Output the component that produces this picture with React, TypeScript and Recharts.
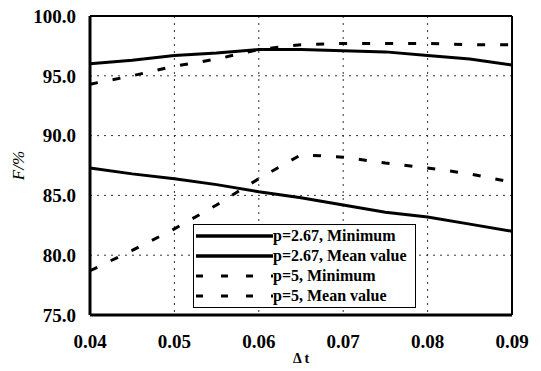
import React from 'react';
import { LineChart, Line, XAxis, YAxis, CartesianGrid, ReferenceLine } from 'recharts';

const xs = [0.04, 0.045, 0.05, 0.055, 0.06, 0.065, 0.07, 0.075, 0.08, 0.085, 0.09];
const p267Min = [87.3, 86.8, 86.4, 85.9, 85.3, 84.8, 84.2, 83.6, 83.2, 82.6, 82.0];
const p267Mean = [96.0, 96.3, 96.7, 96.9, 97.2, 97.2, 97.1, 97.0, 96.7, 96.4, 95.9];
const p5Min = [78.7, 80.4, 82.2, 84.2, 86.4, 88.4, 88.2, 87.7, 87.3, 86.8, 86.1];
const p5Mean = [94.3, 95.0, 95.8, 96.4, 97.2, 97.6, 97.7, 97.7, 97.7, 97.6, 97.6];
const xTicks = [0.04, 0.05, 0.06, 0.07, 0.08, 0.09];
const yTicks = [75, 80, 85, 90, 95, 100];
const seriesNames = ['p=2.67, Minimum', 'p=2.67, Mean value', 'p=5, Minimum', 'p=5, Mean value'];

const data = xs.map((x, i) => ({
  x,
  a: p267Min[i],
  b: p267Mean[i],
  c: p5Min[i],
  d: p5Mean[i],
}));

const FONT = '"Liberation Serif", "Times New Roman", serif';

const LegendBox = () => (
  <div
    style={{
      position: 'absolute',
      left: 193,
      top: 224,
      width: 223,
      height: 84,
      border: '1px solid #000',
      background: '#fff',
      fontFamily: FONT,
      fontWeight: 'bold',
      fontSize: 16,
      color: '#000',
      paddingTop: 1,
      boxSizing: 'border-box',
    }}
  >
    {seriesNames.map((n, i) => (
      <div key={n} style={{ display: 'flex', alignItems: 'center', height: 20, lineHeight: '20px' }}>
        <svg width={77} height={10} style={{ marginLeft: 2 }}>
          <line
            x1={0}
            y1={5}
            x2={77}
            y2={5}
            stroke="#000"
            strokeWidth={i < 2 ? 3.5 : 3}
            strokeDasharray={i < 2 ? undefined : '7 18'}
          />
        </svg>
        <span style={{ whiteSpace: 'nowrap' }}>{n}</span>
      </div>
    ))}
  </div>
);

export default function App() {
  return (
    <div style={{ position: 'absolute', left: 0, top: 0, width: 541, height: 371, background: '#fff' }}>
      <LineChart
        width={541}
        height={371}
        data={data}
        margin={{ top: 16, right: 29, bottom: 24, left: 0 }}
      >
        <CartesianGrid stroke="#333" strokeDasharray="2 5" strokeWidth={1} />
        <XAxis
          dataKey="x"
          type="number"
          domain={[0.04, 0.09]}
          ticks={xTicks}
          tickFormatter={(v: number) => v.toFixed(2)}
          axisLine={{ stroke: '#000', strokeWidth: 3 }}
          tickLine={false}
          tickMargin={14}
          height={32}
          tick={{ fill: '#000', fontFamily: FONT, fontWeight: 'bold', fontSize: 19 }}
          label={{
            value: 'Δ t',
            position: 'insideBottom',
            offset: -16,
            style: { fill: '#000', fontFamily: FONT, fontWeight: 'bold', fontSize: 14 },
          }}
        />
        <YAxis
          type="number"
          domain={[75, 100]}
          ticks={yTicks}
          tickFormatter={(v: number) => v.toFixed(1)}
          axisLine={{ stroke: '#000', strokeWidth: 3 }}
          tickLine={false}
          tickMargin={8}
          width={90}
          tick={{ fill: '#000', fontFamily: FONT, fontWeight: 'bold', fontSize: 19 }}
          label={{
            value: 'F/%',
            angle: -90,
            position: 'insideLeft',
            offset: 18,
            style: { fill: '#000', fontFamily: FONT, fontStyle: 'italic', fontSize: 17, textAnchor: 'middle' },
          }}
        />
        <ReferenceLine y={100} stroke="#000" strokeWidth={2} />
        <ReferenceLine x={0.09} stroke="#000" strokeWidth={2} />
        <Line dataKey="a" name={seriesNames[0]} stroke="#000" strokeWidth={3} dot={false} isAnimationActive={false} />
        <Line dataKey="b" name={seriesNames[1]} stroke="#000" strokeWidth={3} dot={false} isAnimationActive={false} />
        <Line dataKey="c" name={seriesNames[2]} stroke="#000" strokeWidth={3} strokeDasharray="8 15" dot={false} isAnimationActive={false} />
        <Line dataKey="d" name={seriesNames[3]} stroke="#000" strokeWidth={3} strokeDasharray="8 15" dot={false} isAnimationActive={false} />
      </LineChart>
      <LegendBox />
    </div>
  );
}
